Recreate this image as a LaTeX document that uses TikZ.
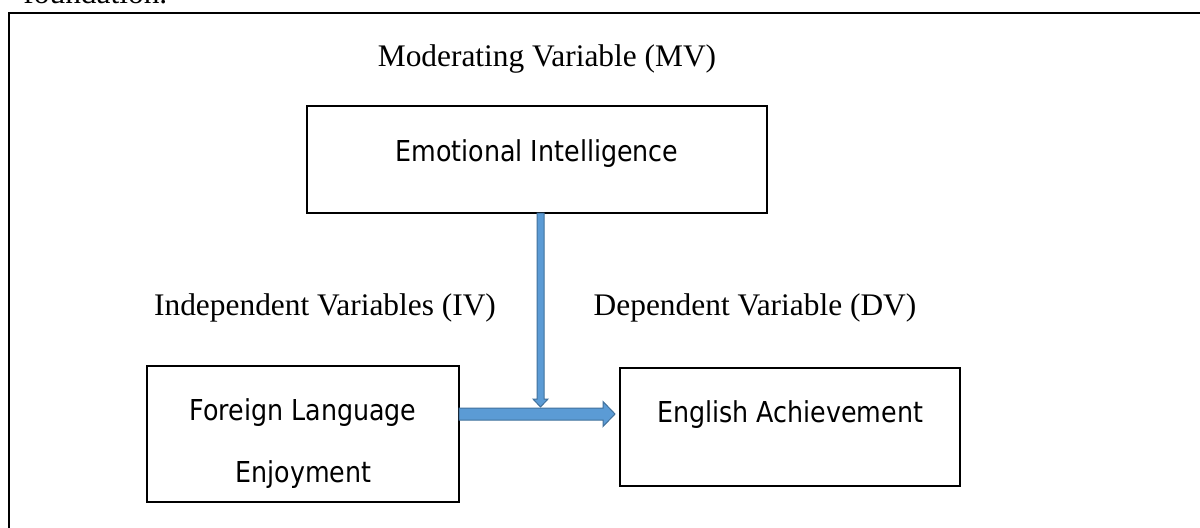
\documentclass[tikz,border=0pt]{standalone}
\usepackage{fontspec}
\setmainfont{Liberation Serif}
\newfontfamily\tah[FakeStretch=0.88]{DejaVu Sans}
\usetikzlibrary{calc}
\definecolor{arrfill}{RGB}{91,155,213}
\definecolor{arrline}{RGB}{65,113,156}
\tikzset{
  frame/.style={line width=1pt, black},
  box/.style={draw=black, line width=1pt, fill=white, inner sep=0pt, outer sep=0pt, anchor=north west},
  serif/.style={inner sep=0pt, anchor=base, font=\fontsize{15.7}{18}\selectfont},
  sans/.style={inner sep=0pt, anchor=base, font=\tah\fontsize{14.4}{17}\selectfont},
  blockarrow/.style={fill=arrfill, draw=arrline, line width=0.5pt, line join=miter}
}
\begin{document}
\begin{tikzpicture}[x=0.5pt,y=-0.5pt]
\useasboundingbox (0,0) rectangle (1200,527);
\clip (0,0) rectangle (1200,527);
\fill[white] (0,0) rectangle (1200,527);
% text cut at the top
\node[serif, anchor=base west] (found) at (23,3) {foundation.};
% outer frame (runs off the picture to the right and bottom)
\coordinate (fbl) at (8.5,560);
\coordinate (ftl) at (8.5,13);
\coordinate (ftr) at (1240,13);
\draw[frame] (fbl) -- (ftl) -- (ftr);
% boxes
\node[box, minimum width=230pt, minimum height=53.5pt] (ei) at (307,106) {};
\node[box, minimum width=156pt, minimum height=68pt] (fle) at (147,366) {};
\node[box, minimum width=170pt, minimum height=59pt] (ea) at (620,368) {};
% labels
\node[serif] (mv) at (547,66) {Moderating Variable (MV)};
\node[serif] (iv) at (325,315) {Independent Variables (IV)};
\node[serif] (dv) at (755,315) {Dependent Variable (DV)};
\node[sans] (eit) at (537,161) {Emotional Intelligence};
\node[sans] (flea) at (303,420) {Foreign Language};
\node[sans] (fleb) at (303.5,482) {Enjoyment};
\node[sans] (eat) at (790,422) {English Achievement};
% horizontal block arrow
\coordinate (hs) at ($(fle.east)+(0,-20)$);
\coordinate (ht) at ($(ea.west |- hs)+(-5,0)$);
\draw[blockarrow] ($(hs)+(0,-6)$) -- ($(ht)+(-12,-6)$) -- ($(ht)+(-12,-12.5)$) -- (ht)
  -- ($(ht)+(-12,12.5)$) -- ($(ht)+(-12,6)$) -- ($(hs)+(0,6)$) -- cycle;
% vertical block arrow
\coordinate (vs) at ($(ei.south)+(3.5,0)$);
\coordinate (vt) at ($(vs |- hs)+(0,-7)$);
\draw[blockarrow] ($(vs)+(-3.5,0)$) -- ($(vt)+(-3.5,-8)$) -- ($(vt)+(-7.5,-8)$) -- (vt)
  -- ($(vt)+(7.5,-8)$) -- ($(vt)+(3.5,-8)$) -- ($(vs)+(3.5,0)$) -- cycle;
\end{tikzpicture}
\end{document}
